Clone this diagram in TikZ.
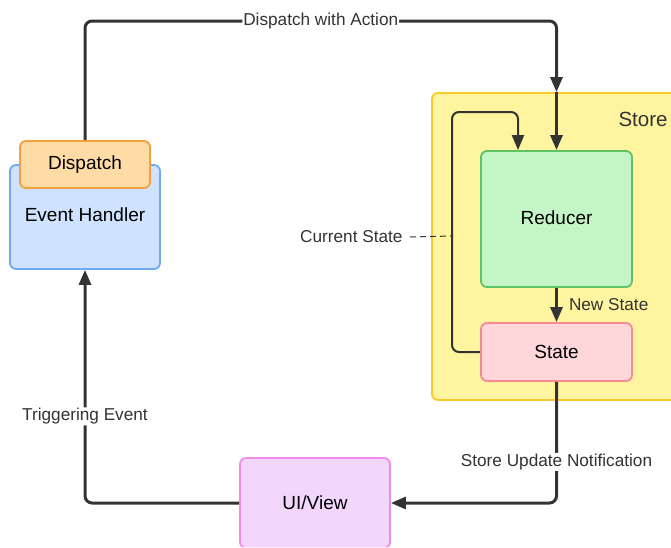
\documentclass[tikz,border=0pt]{standalone}
\usepackage{fontspec}
\setmainfont{Liberation Sans}
\usetikzlibrary{arrows.meta,positioning}

\definecolor{ehfill}{RGB}{207,226,255}
\definecolor{ehline}{RGB}{110,170,245}
\definecolor{dpfill}{RGB}{255,219,166}
\definecolor{dpline}{RGB}{245,160,60}
\definecolor{stfill}{RGB}{255,245,160}
\definecolor{stline}{RGB}{250,200,40}
\definecolor{rdfill}{RGB}{195,245,198}
\definecolor{rdline}{RGB}{95,195,100}
\definecolor{sgfill}{RGB}{255,214,218}
\definecolor{sgline}{RGB}{245,140,145}
\definecolor{uifill}{RGB}{243,214,252}
\definecolor{uiline}{RGB}{240,140,230}
\definecolor{wire}{RGB}{51,51,51}

\begin{document}
\begin{tikzpicture}[x=1pt,y=-1pt,>={Triangle[length=15pt,width=12pt]},
                    line width=3pt,draw=wire,rounded corners=7pt]
	\tikzstyle{box}=[draw,line width=1.8pt,rounded corners=6pt,inner sep=0pt,
	                 font=\fontsize{19}{22}\selectfont]
	\tikzstyle{lbl}=[text=wire,inner sep=1pt,font=\fontsize{17.2}{20}\selectfont]

	\useasboundingbox (0,0) rectangle (671,547);
	\clip (0,0) rectangle (671,547);

	% containers and boxes
	\node[box,fill=stfill,draw=stline,minimum width=280pt,minimum height=307pt]
	      (S)  at (572,246.5) {};
	\node[lbl,text=wire,anchor=east,font=\fontsize{20.5}{24}\selectfont]
	      (SL) at (670,119) {Store};
	\node[box,fill=ehfill,draw=ehline,minimum width=150pt,minimum height=104pt,
	      text depth=4pt]
	      (EH) at (85,217) {Event Handler};
	\node[box,fill=dpfill,draw=dpline,minimum width=130pt,minimum height=47pt]
	      (D)  at (85,164.5) {Dispatch};
	\node[box,fill=rdfill,draw=rdline,minimum width=151pt,minimum height=136pt,
	      text depth=3pt]
	      (R)  at (556.5,219) {Reducer};
	\node[box,fill=sgfill,draw=sgline,minimum width=151pt,minimum height=58pt]
	      (St) at (556.5,352) {State};
	\node[box,fill=uifill,draw=uiline,minimum width=150pt,minimum height=90pt]
	      (UI) at (315,503) {UI/View};

	% helper points
	\coordinate (top) at (85,21);
	\coordinate (sin) at (R.north |- S.north);
	\coordinate (lp)  at (452,112);
	\coordinate (cs)  at (452,236);

	% connectors
	\draw[->] (D.north) -- (top) -- (sin |- top)
	      node[midway,lbl,fill=white] (DA) {Dispatch with Action} -- (sin);
	\draw[->] (sin) -- (R.north);
	\draw[->,line width=2pt] (St.west) -| (lp) -| ([xshift=-38.5pt]R.north);
	\node[lbl,anchor=east] (CS) at (405,237) {Current State};
	\draw[dashed,line width=1pt,dash pattern=on 6pt off 4pt] ([xshift=5pt]CS.east) -- (cs);
	\draw[->] (R.south) -- (St.north)
	      node[midway,lbl,anchor=west,xshift=10pt] (NS) {New State};
	\draw[->] (St.south) |- (UI.east)
	      node[pos=0.33,lbl,fill=white] (SU) {Store Update Notification};
	\draw[->] (UI.west) -| (EH.south)
	      node[pos=0.686,lbl,fill=white] (TE) {Triggering Event};
\end{tikzpicture}
\end{document}
